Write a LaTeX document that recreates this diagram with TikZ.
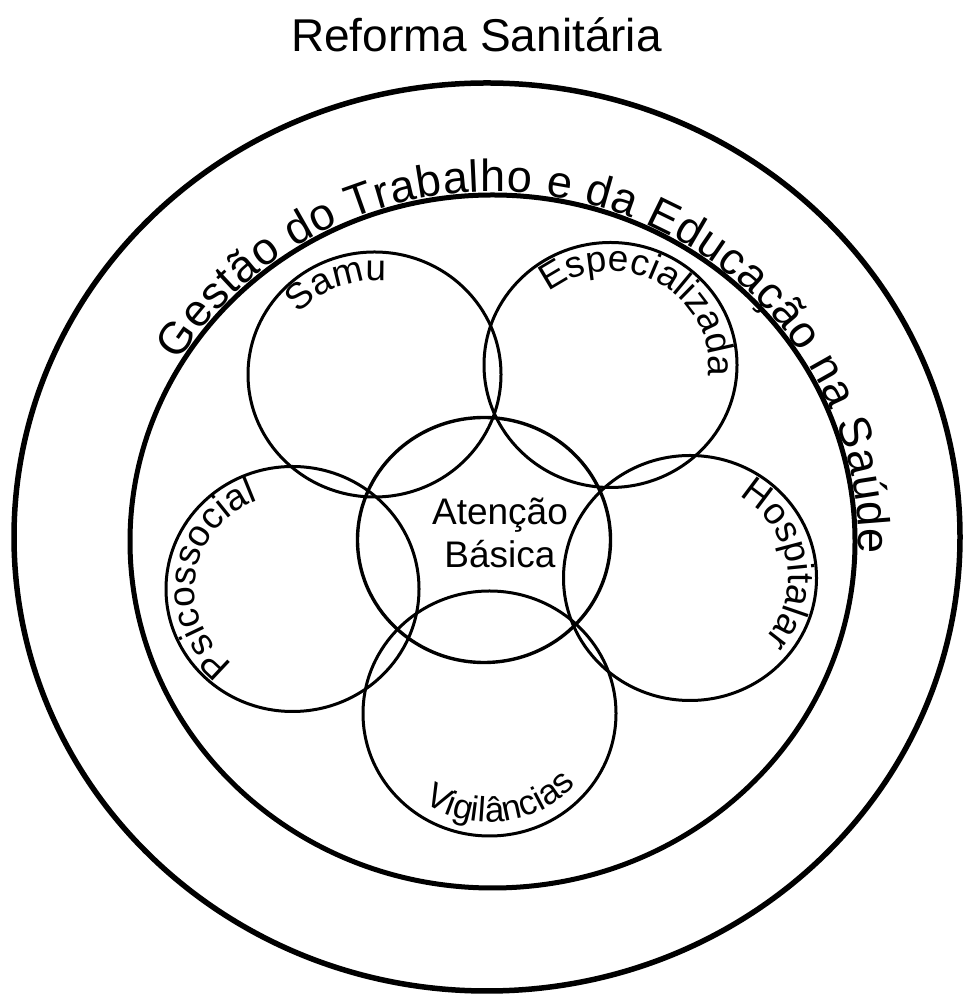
\documentclass[tikz,border=0pt]{standalone}
\usepackage{fontspec}
\setmainfont{Liberation Sans}
\usetikzlibrary{shapes.geometric,decorations.text}
\newcommand\titlefont{\fontsize{46}{55}\selectfont}
\newcommand\ringfont{\fontsize{45}{54}\selectfont}
\newcommand\labfont{\fontsize{37}{43}\selectfont}
\newcommand\vigfont{\fontsize{35}{42}\selectfont}
\begin{document}
\begin{tikzpicture}[x=1pt,y=1pt,
  bigring/.style={ellipse, draw, line width=5.5pt, inner sep=0pt},
  smallc/.style={ellipse, draw, line width=3pt, minimum width=253pt, minimum height=245pt, inner sep=0pt},
  arctext/.style={decorate, decoration={text along path, text align=center, text={#1}}},
]
\useasboundingbox (0,0) rectangle (962,995);
% rings
\node[bigring, minimum width=946pt, minimum height=908pt] (outer) at (487,458) {};
\node[bigring, line width=5pt, minimum width=725pt, minimum height=693pt] (inner) at (492.5,453.5) {};
% small circles
\node[smallc] (samu) at (374.5,620.5) {};
\node[smallc] (espec) at (610.5,630) {};
\node[smallc, line width=3.4pt] (atencao) at (484,455) {};
\node[smallc] (psico) at (292.5,406) {};
\node[smallc] (hosp) at (690,417) {};
\node[smallc] (vigil) at (489.5,281.5) {};
% title
\node[font=\titlefont, anchor=base] (title) at (476.5,943) {Reforma Sanitária};
% central text
\node[font=\labfont, align=center, inner sep=0pt] (atxt) at (500,462) {Atenção\\Básica};
% ring text
\path[decorate, decoration={text along path, text align=fit to path, raise=3pt,
  text={|\ringfont|Gestão do Trabalho e da Educação na Saúde}}]
  (inner.center) ++(149:362.5 and 346.5)
  arc[start angle=149, end angle=-2, x radius=362.5, y radius=346.5];
% circle labels
\path[arctext={|\labfont|Samu}]
  (samu.center) ++(157:98 and 94) arc[start angle=157, end angle=67, x radius=98, y radius=94];
\path[arctext={|\labfont|Especializada}]
  (espec.center) ++(161:98 and 94) arc[start angle=161, end angle=-39, x radius=98, y radius=94];
\path[arctext={|\labfont|Hospitalar}]
  (hosp.center) ++(94.5:98 and 94) arc[start angle=94.5, end angle=-75.5, x radius=98, y radius=94];
\path[arctext={|\labfont|Psicossocial}]
  (psico.center) ++(251.8:98 and 94) arc[start angle=251.8, end angle=91.8, x radius=98, y radius=94];
\path[arctext={|\vigfont|Vigilâncias}]
  (vigil.center) ++(217:113 and 109) arc[start angle=217, end angle=337, x radius=113, y radius=109];
\end{tikzpicture}
\end{document}
